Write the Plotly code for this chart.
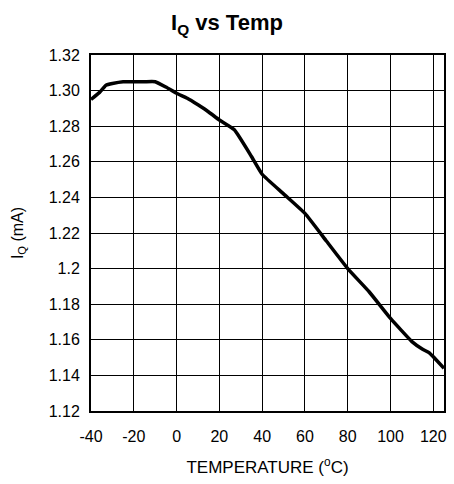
import plotly.graph_objects as go

temp = [-40, -36, -33, -30, -25, -20, -15, -10, -5, 0, 5, 10, 15, 20, 27, 35, 40, 50, 60, 70, 80, 90, 100, 110, 115, 118, 120, 125]
iq = [1.295, 1.299, 1.303, 1.304, 1.305, 1.305, 1.305, 1.305, 1.302, 1.2985, 1.2957, 1.292, 1.288, 1.2835, 1.278, 1.263, 1.253, 1.242, 1.231, 1.2155, 1.200, 1.187, 1.172, 1.159, 1.1547, 1.1528, 1.1505, 1.144]

x_ticks = [-40, -20, 0, 20, 40, 60, 80, 100, 120]
x_labels = ["-40", "-20", "0", "20", "40", "60", "80", "100", "120"]
y_ticks = [1.12, 1.14, 1.16, 1.18, 1.2, 1.22, 1.24, 1.26, 1.28, 1.30, 1.32]
y_labels = ["1.12", "1.14", "1.16", "1.18", "1.2", "1.22", "1.24", "1.26", "1.28", "1.30", "1.32"]

fig = go.Figure(go.Scatter(x=temp, y=iq, mode="lines",
                           line=dict(color="black", width=3.5, shape="spline", smoothing=0.4)))

fam = "Liberation Sans, Arial, sans-serif"
tickfont = dict(family=fam, size=16, color="black")

fig.update_layout(
    width=454, height=484,
    margin=dict(l=91, r=7, t=55, b=73),
    paper_bgcolor="white", plot_bgcolor="white",
    font=tickfont,
    showlegend=False,
    title=dict(text="<b>I<sub>Q</sub> vs Temp</b>", x=0.5, xanchor="center",
               y=0.953, yanchor="middle", font=dict(family=fam, size=22, color="black")),
)
fig.update_xaxes(range=[-40, 125], tickvals=x_ticks, ticktext=x_labels, ticks="",
                 ticklabelstandoff=10, showgrid=True,
                 gridcolor="black", gridwidth=1, showline=True, linecolor="black",
                 linewidth=2, mirror=True, zeroline=False, tickfont=tickfont,
                 title=dict(text="TEMPERATURE (<sup>o</sup>C)", font=dict(family=fam, size=17, color="black"), standoff=17))
fig.update_yaxes(range=[1.12, 1.32], tickvals=y_ticks, ticktext=y_labels, ticks="",
                 ticklabelstandoff=6,
                 showgrid=True, gridcolor="black", gridwidth=1, showline=True,
                 linecolor="black", linewidth=2, mirror=True, zeroline=False, tickfont=tickfont,
                 title=dict(text="I<sub>Q</sub> (mA)", font=dict(family=fam, size=16, color="black"), standoff=21))

fig.write_html("out.html")
